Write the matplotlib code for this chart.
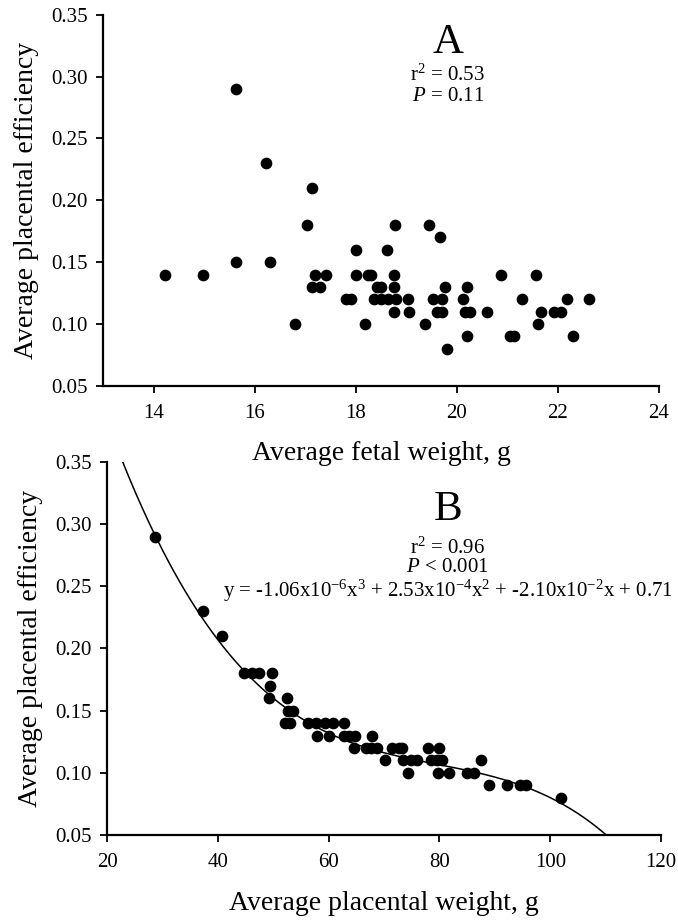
import matplotlib.pyplot as plt
import numpy as np

plt.rcParams['font.family'] = ['Liberation Serif', 'DejaVu Serif']
plt.rcParams['mathtext.fontset'] = 'custom'
plt.rcParams['mathtext.rm'] = 'Liberation Serif'
plt.rcParams['mathtext.it'] = 'Liberation Serif:italic'

# Panel A: average fetal weight (g) vs placental efficiency
fetal_wt = [15.63, 16.23, 17.13, 17.03, 18.77, 19.44, 19.67, 18.01, 18.62, 15.63, 16.3,
            14.23, 14.97, 17.2, 17.42, 18.0, 18.24, 18.3, 18.75, 20.88, 21.57,
            17.13, 17.29, 18.43, 18.5, 18.75, 19.77, 20.21,
            17.8, 17.91, 18.37, 18.5, 18.64, 18.8, 19.03, 19.52, 19.7, 20.13, 21.28, 22.18, 22.61,
            18.75, 19.06, 19.6, 19.7, 20.17, 20.26, 20.6, 21.67, 21.93, 22.07,
            16.8, 18.18, 19.37, 21.6,
            20.21, 21.06, 21.14, 22.3,
            19.81]
eff_a = [0.29, 0.23, 0.21, 0.18, 0.18, 0.18, 0.17, 0.16, 0.16, 0.15, 0.15,
         0.14, 0.14, 0.14, 0.14, 0.14, 0.14, 0.14, 0.14, 0.14, 0.14,
         0.13, 0.13, 0.13, 0.13, 0.13, 0.13, 0.13,
         0.12, 0.12, 0.12, 0.12, 0.12, 0.12, 0.12, 0.12, 0.12, 0.12, 0.12, 0.12, 0.12,
         0.11, 0.11, 0.11, 0.11, 0.11, 0.11, 0.11, 0.11, 0.11, 0.11,
         0.10, 0.10, 0.10, 0.10,
         0.09, 0.09, 0.09, 0.09,
         0.08]

# Panel B: average placental weight (g) vs placental efficiency
plac_wt = [28.7, 37.25, 40.7,
           44.8, 46.2, 47.4, 49.8,
           49.4,
           49.2, 52.4,
           52.7, 53.6,
           52.1, 53.0, 56.2, 57.7, 59.3, 60.8, 62.7,
           57.9, 60.0, 62.7, 63.6, 64.8, 67.9,
           64.5, 66.7, 67.6, 68.8, 71.5, 72.7, 73.3, 78.0, 80.0,
           70.2, 73.5, 74.8, 76.0, 78.4, 79.6, 80.5, 87.5,
           74.4, 79.7, 81.8, 85.0, 86.2,
           89.0, 92.1, 94.6, 95.7,
           102.0]
eff_b = [0.29, 0.23, 0.21,
         0.18, 0.18, 0.18, 0.18,
         0.17,
         0.16, 0.16,
         0.15, 0.15,
         0.14, 0.14, 0.14, 0.14, 0.14, 0.14, 0.14,
         0.13, 0.13, 0.13, 0.13, 0.13, 0.13,
         0.12, 0.12, 0.12, 0.12, 0.12, 0.12, 0.12, 0.12, 0.12,
         0.11, 0.11, 0.11, 0.11, 0.11, 0.11, 0.11, 0.11,
         0.10, 0.10, 0.10, 0.10, 0.10,
         0.09, 0.09, 0.09, 0.09,
         0.08]

# cubic fit coefficients (highest power first)
poly_b = [-1.06e-6, 2.53e-4, -2.10e-2, 0.71]

fig = plt.figure(figsize=(6.78, 9.21), dpi=100)
axA = fig.add_axes([0.152, 0.581, 0.820, 0.403])
axB = fig.add_axes([0.158, 0.0934, 0.817, 0.405])


def style(ax):
    ax.patch.set_visible(False)
    for s in ['top', 'right']:
        ax.spines[s].set_visible(False)
    for s in ['left', 'bottom']:
        ax.spines[s].set_linewidth(1.6)
    ax.tick_params(direction='out', length=5, width=1.3, labelsize=15)
    ax.tick_params(axis='x', pad=8)
    ax.tick_params(axis='y', pad=6)
    ax.set_ylim(0.05, 0.35)
    ax.set_yticks(np.arange(0.05, 0.351, 0.05))
    ax.yaxis.set_major_formatter(plt.FormatStrFormatter('%.2f'))
    ax.set_ylabel('Average placental efficiency', fontsize=20, labelpad=9)


# Panel A
axA.scatter(fetal_wt, eff_a, s=55, color='black', zorder=3)
style(axA)
axA.set_xlim(13, 24)
axA.set_xticks([14, 16, 18, 20, 22, 24])
axA.set_xlabel('Average fetal weight, g', fontsize=20, labelpad=13)
axA.text(0.62, 0.925, 'A', transform=axA.transAxes, ha='center', va='center', fontsize=31)
axA.text(0.62, 0.836, 'r$^2$ = 0.53', transform=axA.transAxes, ha='center', va='center', fontsize=15)
axA.text(0.62, 0.779, '$\\it{P}$ = 0.11', transform=axA.transAxes, ha='center', va='center', fontsize=15)

# Panel B
xs = np.linspace(20, 120, 400)
axB.plot(xs, np.polyval(poly_b, xs), color='black', lw=1.1, zorder=2)
axB.scatter(plac_wt, eff_b, s=55, color='black', zorder=3)
style(axB)
axB.set_xlim(20, 120)
axB.set_xticks([20, 40, 60, 80, 100, 120])
axB.set_xlabel('Average placental weight, g', fontsize=20, labelpad=14)
axB.text(0.615, 0.871, 'B', transform=axB.transAxes, ha='center', va='center', fontsize=31)
axB.text(0.615, 0.769, 'r$^2$ = 0.96', transform=axB.transAxes, ha='center', va='center', fontsize=15)
axB.text(0.615, 0.718, '$\\it{P}$ < 0.001', transform=axB.transAxes, ha='center', va='center', fontsize=15)
eq = ('y = -1.06x10$^{-6}$x$^{3}$ + 2.53x10$^{-4}$x$^{2}$ + '
      '-2.10x10$^{-2}$x + 0.71')
axB.text(0.615, 0.654, eq, transform=axB.transAxes, ha='center', va='center', fontsize=15)

fig.savefig('out.png', dpi=100)
